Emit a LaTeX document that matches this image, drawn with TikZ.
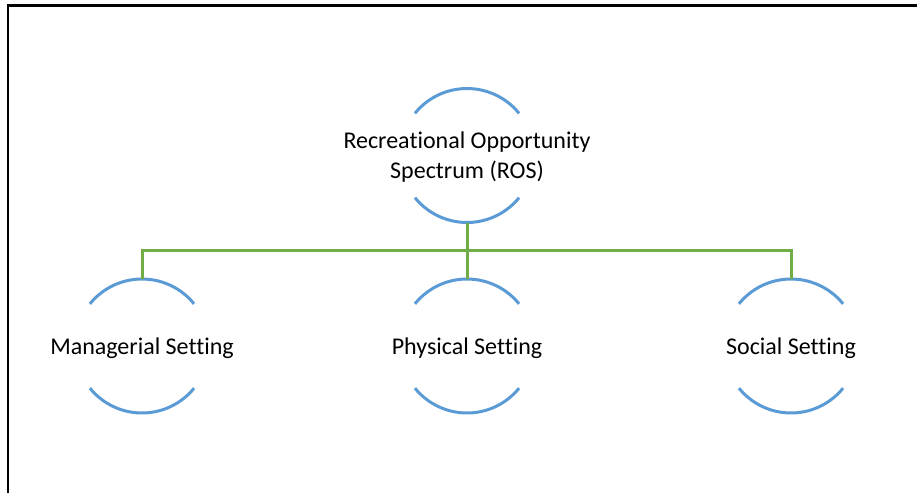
\documentclass[tikz,border=0pt]{standalone}
\usepackage{fontspec}
\setmainfont{Carlito}[Ligatures=NoCommon]
\definecolor{arcblue}{HTML}{5B9BD5}
\definecolor{linkgreen}{HTML}{70AD47}
\begin{document}
\begin{tikzpicture}[x=1pt,y=-1pt,
  ring/.style={circle,minimum size=134pt,inner sep=0pt,outer sep=0pt},
  label/.style={align=center,inner sep=0pt,font=\fontsize{24}{29.5}\selectfont},
  arcline/.style={draw=arcblue,line width=3pt},
  link/.style={draw=linkgreen,line width=3pt},
  frame/.style={draw=black,line width=2.4pt}]
\useasboundingbox (0,0) rectangle (917,493);
\coordinate (ftl) at (8,5.5);
\coordinate (ftr) at (917,5.5);
\coordinate (fbl) at (8,493);
\draw[frame] (ftr) -- (ftl) -- (fbl);
\node[ring] (top) at (467,155.5) {};
\node[ring] (man) at (142,346) {};
\node[ring] (phy) at (467,346) {};
\node[ring] (soc) at (791,346) {};
\node[label] (topt) at ([yshift=-1.5pt]top.center) {Recreational Opportunity\\Spectrum (ROS)};
\node[label] (mant) at ([yshift=-2pt]man.center) {Managerial Setting};
\node[label] (phyt) at ([yshift=-2pt]phy.center) {Physical Setting};
\node[label] (soct) at ([yshift=-2pt]soc.center) {Social Setting};
\foreach \n in {top,man,phy,soc}{
  \draw[arcline] (\n.39) arc[start angle=39,end angle=141,radius=67pt];
  \draw[arcline] (\n.-141) arc[start angle=-141,end angle=-39,radius=67pt];
}
\coordinate (bus) at (467,250);
\draw[link] (top.south) -- (bus);
\draw[link] (man.north) |- (bus) -| (soc.north);
\draw[link] (bus) -- (phy.north);
\end{tikzpicture}
\end{document}
